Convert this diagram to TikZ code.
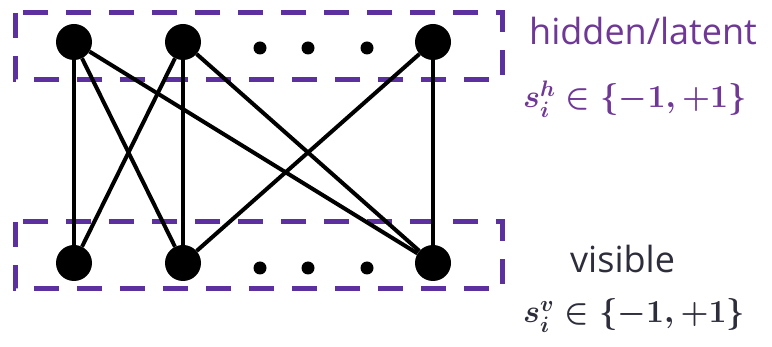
\RequirePackage{fix-cm}
\documentclass[tikz,border=0pt]{standalone}
\usepackage{amsmath, amssymb}
\usepackage{fontspec}
\setmainfont{Open Sans}
\usepackage{tikz}
\usetikzlibrary{positioning}

\definecolor{boxpurple}{RGB}{92,48,158}
\definecolor{labpurple}{RGB}{112,56,150}
\definecolor{labgray}{RGB}{45,45,60}

\tikzset{
    unit/.style={circle, fill=black, minimum size=36pt, inner sep=0pt},
    smalldot/.style={circle, fill=black, minimum size=13pt, inner sep=0pt},
    layerbox/.style={draw=boxpurple, line width=5pt, dash pattern=on 25pt off 18pt},
    edge/.style={line width=4pt},
    lab/.style={anchor=base west, inner sep=0pt, font=\fontsize{36}{40}\selectfont},
    spin/.style={anchor=base west, inner sep=0pt, font=\fontsize{32}{36}\selectfont\boldmath}
}

\begin{document}
\begin{tikzpicture}[x=1pt, y=-1pt]
    \useasboundingbox (0,0) rectangle (772,347);

    % Hidden layer
    \draw[layerbox] (15,13) rectangle (502,80);
    \node[unit] (h1) at (74,42) {};
    \node[unit] (h2) at (183,42) {};
    \node[smalldot] (hd1) at (260,48) {};
    \node[smalldot] (hd2) at (308,48) {};
    \node[smalldot] (hd3) at (367,48) {};
    \node[unit] (h3) at (433,42) {};

    % Visible layer
    \draw[layerbox] (15,222) rectangle (502,289);
    \node[unit] (v1) at (74,263) {};
    \node[unit] (v2) at (183,263) {};
    \node[smalldot] (vd1) at (260,268) {};
    \node[smalldot] (vd2) at (308,268) {};
    \node[smalldot] (vd3) at (367,268) {};
    \node[unit] (v3) at (433,263) {};

    % Connections
    \foreach \a/\b in {h1/v1, h1/v2, h1/v3, h2/v1, h2/v2, h2/v3, h3/v2, h3/v3}
        \draw[edge] (\a) -- (\b);

    % Labels
    \node[lab, text=labpurple] (hidlab) at (529,45) {hidden/latent};
    \node[spin, text=labpurple] (hidspin) at (523,108) {$s_i^h \in \{-1,+1\}$};
    \node[lab, text=labgray] (vislab) at (570,273) {visible};
    \node[spin, text=labgray] (visspin) at (523,323) {$s_i^v \in \{-1,+1\}$};
\end{tikzpicture}
\end{document}
